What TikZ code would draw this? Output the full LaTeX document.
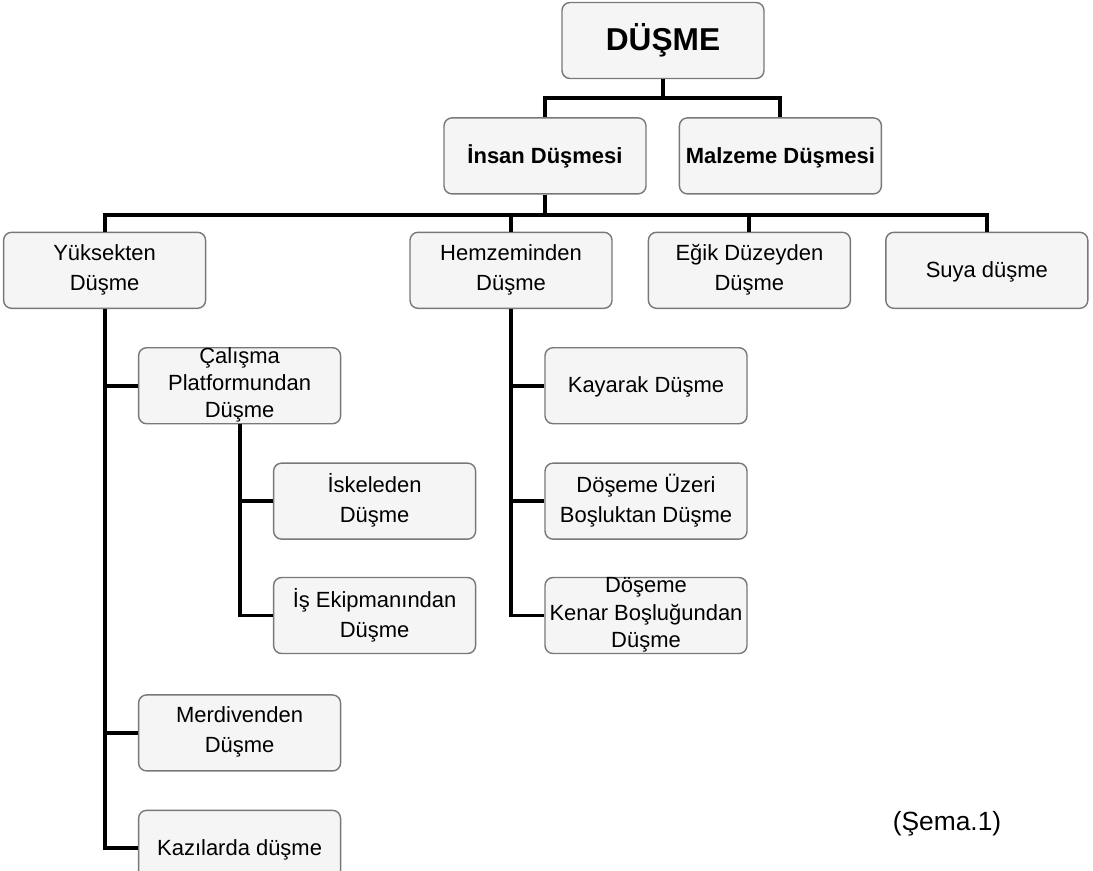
\documentclass[tikz,border=0pt]{standalone}
\usepackage{fontspec}
\setmainfont{Liberation Sans}
\definecolor{dusmeFill}{RGB}{245,245,245}
\definecolor{dusmeLine}{RGB}{120,120,120}
\usepackage{tikz}
\usetikzlibrary{positioning,calc}

\begin{document}
\begin{tikzpicture}[
  box/.style={draw=dusmeLine, line width=0.8pt, fill=dusmeFill, rounded corners=0.16cm,
              minimum width=4.04cm, minimum height=1.52cm, inner sep=0pt,
              align=center, font=\fontsize{12.5}{17}\selectfont,
              execute at begin node={\rule{0pt}{11.6pt}},
              execute at end node={\rule[-3.4pt]{0pt}{3.4pt}}},
  tight/.style={font=\fontsize{12.5}{15.5}\selectfont, inner ysep=-1.5pt},
  conn/.style={line width=2.2pt, black}
]
  \useasboundingbox (0,0) rectangle (21.86,-17.42);

  % top levels
  \node[box, font=\fontsize{18}{22}\selectfont\bfseries] (dusme) at (13.26,-0.81) {DÜŞME};
  \node[box, font=\fontsize{12.5}{17}\selectfont\bfseries, below=0.76cm of dusme, xshift=-2.36cm] (insan) {İnsan Düşmesi};
  \node[box, font=\fontsize{12.5}{17}\selectfont\bfseries, right=0.64cm of insan] (malzeme) {Malzeme Düşmesi};

  \node[box, below=0.74cm of insan, xshift=-0.68cm] (hemzemin) {Hemzeminden\\Düşme};
  \node[box, left=4.06cm of hemzemin]               (yuksek)   {Yüksekten\\Düşme};
  \node[box, right=0.70cm of hemzemin]              (egik)     {Eğik Düzeyden\\Düşme};
  \node[box, right=0.68cm of egik]                  (suya)     {Suya düşme};

  % Yüksekten branch
  \node[box, tight, below=0.76cm of yuksek, xshift=2.7cm]   (calisma)  {Çalışma\\Platformundan\\Düşme};
  \node[box, below=0.76cm of calisma, xshift=2.7cm]         (iskele)   {İskeleden\\Düşme};
  \node[box, below=0.74cm of iskele]                        (isekip)   {İş Ekipmanından\\Düşme};
  \node[box, below=0.80cm of isekip, xshift=-2.7cm]         (merdiven) {Merdivenden\\Düşme};
  \node[box, below=0.76cm of merdiven]                      (kazi)     {Kazılarda düşme};

  % Hemzeminden branch
  \node[box, below=0.76cm of hemzemin, xshift=2.7cm] (kayarak)  {Kayarak Düşme};
  \node[box, below=0.76cm of kayarak]                (dosuzeri) {Döşeme Üzeri\\Boşluktan Düşme};
  \node[box, tight, below=0.74cm of dosuzeri]        (doskenar) {Döşeme\\Kenar Boşluğundan\\Düşme};

  \node[font=\fontsize{15}{18}\selectfont] (sema) at (18.94,-16.48) {(Şema.1)};

  % connectors
  \coordinate (j1) at ($(dusme.south)+(0,-0.38)$);
  \draw[conn] (dusme.south) -- (j1);
  \draw[conn] (insan.north) |- (j1) -| (malzeme.north);

  \coordinate (j2) at ($(insan.south)+(0,-0.40)$);
  \draw[conn] (insan.south) -- (j2);
  \draw[conn] (yuksek.north) |- (j2) -| (suya.north);
  \draw[conn] (hemzemin.north) -- (hemzemin.north |- j2);
  \draw[conn] (egik.north) -- (egik.north |- j2);

  \draw[conn] (yuksek.south) |- (kazi.west);
  \draw[conn] (yuksek.south |- calisma.west) -- (calisma.west);
  \draw[conn] (yuksek.south |- merdiven.west) -- (merdiven.west);

  \draw[conn] (calisma.south) |- (isekip.west);
  \draw[conn] (calisma.south |- iskele.west) -- (iskele.west);

  \draw[conn] (hemzemin.south) |- (doskenar.west);
  \draw[conn] (hemzemin.south |- kayarak.west) -- (kayarak.west);
  \draw[conn] (hemzemin.south |- dosuzeri.west) -- (dosuzeri.west);
\end{tikzpicture}
\end{document}
